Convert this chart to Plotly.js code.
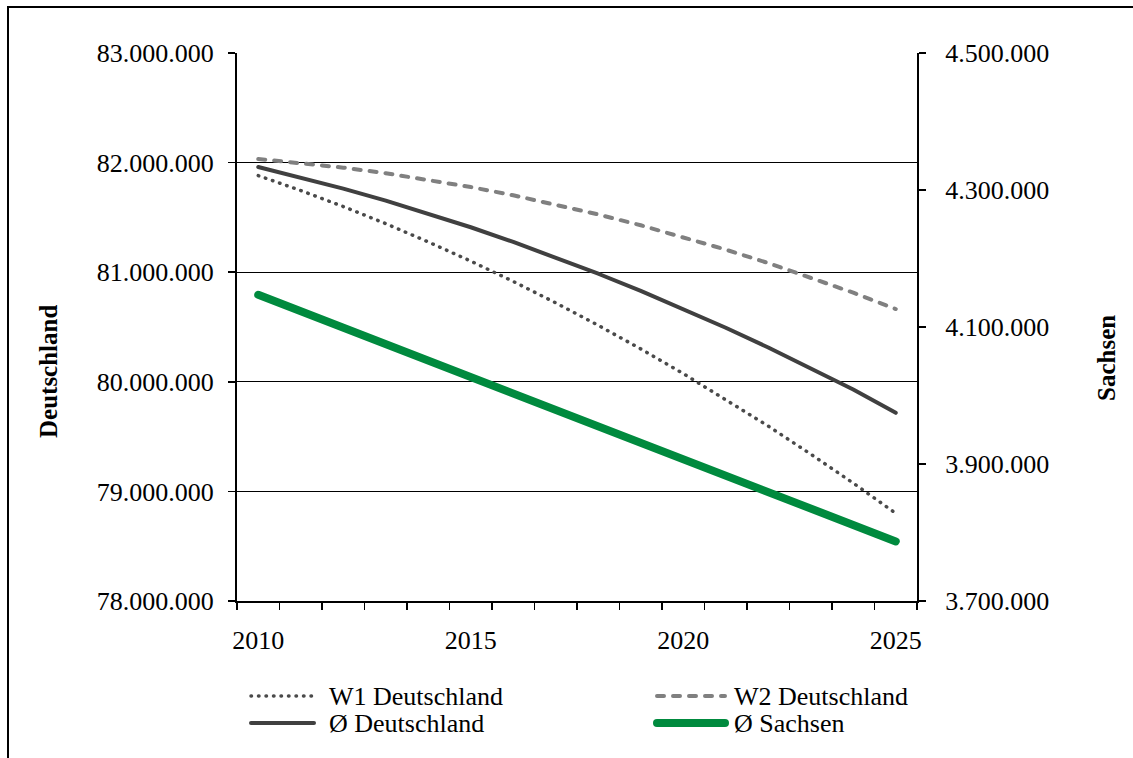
<!DOCTYPE html>
<html>
<head>
<meta charset="utf-8">
<script src="https://cdn.plot.ly/plotly-3.0.1.min.js"></script>
<style>
  html, body { margin: 0; padding: 0; background: #fff; }
  #wrap { position: relative; width: 1133px; height: 758px; overflow: hidden; }
  #chart { width: 1133px; height: 758px; }
  #frame { position: absolute; left: 7px; top: 6px; width: 1150px; height: 780px; border: 2px solid #000; pointer-events: none; }
  .scatterlayer .js-line { stroke-linecap: round; stroke-linejoin: round; }
  .shapelayer path { stroke-linecap: round; }
</style>
</head>
<body>
<div id="wrap">
  <div id="chart"></div>
  <div id="frame"></div>
</div>
<script>
// ---- data ----
const years = [2010, 2011, 2012, 2013, 2014, 2015, 2016, 2017, 2018, 2019, 2020, 2021, 2022, 2023, 2024, 2025];
const xTickLabels = ['2010', '2015', '2020', '2025'];
const xTickVals = [2010, 2015, 2020, 2025];
const w1Deutschland = [81881000, 81745000, 81599000, 81443000, 81276000, 81101000, 80916000, 80720000, 80515000, 80300000, 80075000, 79839000, 79596000, 79340000, 79076000, 78800000];
const w2Deutschland = [82033000, 81998000, 81954000, 81903000, 81844000, 81777000, 81702000, 81619000, 81527000, 81428000, 81321000, 81206000, 81083000, 80952000, 80813000, 80664000];
const avgDeutschland = [81960000, 81865000, 81763000, 81653000, 81536000, 81410000, 81276000, 81135000, 80986000, 80829000, 80665000, 80493000, 80313000, 80125000, 79929000, 79717000];
const avgSachsen = [4147000, 4123000, 4099000, 4076000, 4052000, 4028000, 4005000, 3980000, 3955000, 3930000, 3906000, 3882000, 3858000, 3834000, 3810000, 3787000];
const seriesNames = ['W1 Deutschland', 'W2 Deutschland', '\u00d8 Deutschland', '\u00d8 Sachsen'];
const leftTitle = 'Deutschland';
const rightTitle = 'Sachsen';

// ---- styles ----
const FONT = 'Liberation Serif, Times New Roman, serif';
const styles = [
  { color: '#4a4a4a', width: 3.5, dash: '0.5px,7px', axis: 'y' },
  { color: '#808080', width: 4, dash: '7px,9px', axis: 'y' },
  { color: '#404040', width: 4, dash: 'solid', axis: 'y' },
  { color: '#008a3e', width: 8, dash: 'solid', axis: 'y2' }
];
const seriesData = [w1Deutschland, w2Deutschland, avgDeutschland, avgSachsen];

const traces = seriesData.map((vals, i) => ({
  type: 'scatter', mode: 'lines', x: years, y: vals, name: seriesNames[i],
  yaxis: styles[i].axis,
  line: { color: styles[i].color, width: styles[i].width, dash: styles[i].dash },
  hoverinfo: 'x+y+name'
}));

const minorTicks = [];
for (let k = 0; k <= years.length; k++) minorTicks.push(years[0] - 0.5 + k);

// custom legend (paper coordinates)
const L = 237, R = 917, T = 53, B = 601;
const px = v => (v - L) / (R - L);
const py = v => (B - v) / (B - T);
const legendPos = [
  { x0: 251, x1: 314, tx: 327, y: 696 },
  { x0: 657, x1: 725, tx: 732, y: 696 },
  { x0: 251, x1: 314, tx: 327, y: 723 },
  { x0: 657, x1: 725, tx: 732, y: 723 }
];
const shapes = legendPos.map((p, i) => ({
  type: 'line', xref: 'paper', yref: 'paper',
  x0: px(p.x0), x1: px(p.x1), y0: py(p.y), y1: py(p.y),
  line: { color: styles[i].color, width: styles[i].width, dash: styles[i].dash }
}));
const annotations = legendPos.map((p, i) => ({
  xref: 'paper', yref: 'paper', x: px(p.tx), y: py(p.y), xanchor: 'left', yanchor: 'middle',
  text: seriesNames[i], showarrow: false, font: { family: FONT, size: 26, color: '#000' }
}));
annotations.push({
  xref: 'paper', yref: 'paper', x: px(48), y: py(372), xanchor: 'center', yanchor: 'middle',
  text: '<b>' + leftTitle + '</b>', textangle: -90, showarrow: false, font: { family: FONT, size: 25, color: '#000' }
});
annotations.push({
  xref: 'paper', yref: 'paper', x: px(1106), y: py(358), xanchor: 'center', yanchor: 'middle',
  text: '<b>' + rightTitle + '</b>', textangle: -90, showarrow: false, font: { family: FONT, size: 25, color: '#000' }
});

const layout = {
  width: 1133, height: 758,
  margin: { l: L, r: 1133 - R, t: T, b: 758 - B, pad: 0 },
  paper_bgcolor: '#fff', plot_bgcolor: '#fff',
  separators: ',.',
  showlegend: false,
  font: { family: FONT, size: 26, color: '#000' },
  xaxis: {
    range: [2009.5, 2025.5], tickmode: 'array', tickvals: xTickVals, ticktext: xTickLabels,
    ticks: '', showline: true, linecolor: '#000', linewidth: 2, showgrid: false, zeroline: false,
    tickfont: { family: FONT, size: 26, color: '#000' }, ticklabelstandoff: 15,
    minor: { tickmode: 'array', tickvals: minorTicks, ticks: 'outside', ticklen: 7, tickwidth: 1.5, tickcolor: '#000', showgrid: false }
  },
  yaxis: {
    range: [78000000, 83000000], tick0: 78000000, dtick: 1000000, tickformat: ',d',
    ticks: 'outside', ticklen: 7, tickwidth: 1.5, tickcolor: '#000',
    showline: true, linecolor: '#000', linewidth: 2,
    showgrid: true, gridcolor: '#000', gridwidth: 1.2, zeroline: false,
    tickfont: { family: FONT, size: 26, color: '#000' }, ticklabelstandoff: 9
  },
  yaxis2: {
    overlaying: 'y', side: 'right',
    range: [3700000, 4500000], tick0: 3700000, dtick: 200000, tickformat: ',d',
    ticks: 'outside', ticklen: 7, tickwidth: 1.5, tickcolor: '#000',
    showline: true, linecolor: '#000', linewidth: 2,
    showgrid: false, zeroline: false,
    tickfont: { family: FONT, size: 26, color: '#000' }, ticklabelstandoff: 14
  },
  shapes: shapes,
  annotations: annotations
};

Plotly.newPlot('chart', traces, layout, { displayModeBar: false, staticPlot: true });
</script>
</body>
</html>
